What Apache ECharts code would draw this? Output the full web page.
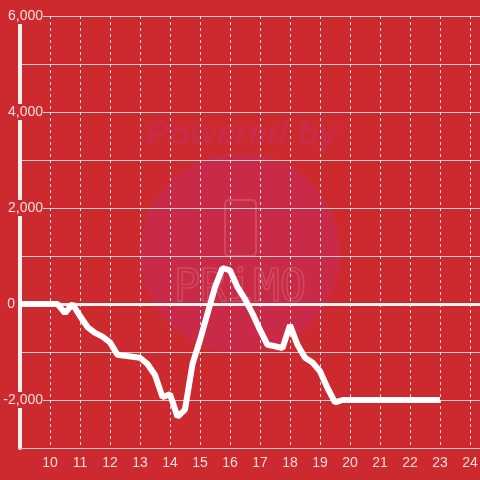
<!DOCTYPE html>
<html><head><meta charset="utf-8">
<script src="https://cdn.jsdelivr.net/npm/echarts@6/dist/echarts.min.js"></script>
<style>html,body{margin:0;padding:0;background:#cd2a2f}#c{width:480px;height:480px}</style>
</head><body><div id="c"></div>
<script>
const hours = [9,9.25,9.5,9.75,10,10.25,10.5,10.75,11,11.25,11.5,11.75,12,12.25,12.5,12.75,13,13.25,13.5,13.75,14,14.25,14.5,14.75,15,15.25,15.5,15.75,16,16.25,16.5,16.75,17,17.25,17.5,17.75,18,18.25,18.5,18.75,19,19.25,19.5,19.75,20,20.5,21,21.5,22,22.5,23];
const values = [0,0,0,0,0,0,-190,0,-250,-480,-600,-680,-800,-1060,-1080,-1100,-1120,-1250,-1480,-1940,-1880,-2350,-2200,-1250,-750,-200,350,750,700,350,100,-200,-540,-850,-880,-920,-440,-850,-1120,-1220,-1400,-1750,-2050,-2000,-2000,-2000,-2000,-2000,-2000,-2000,-2000];
const xTicks = [10,11,12,13,14,15,16,17,18,19,20,21,22,23,24];
const yTicks = [-2000,0,2000,4000,6000];

const bg = '#cd2a2f';
const chart = echarts.init(document.getElementById('c'), null, {renderer:'canvas'});
const labelColor = 'rgba(255,240,240,0.9)';
chart.setOption({
  backgroundColor: bg,
  animation: false,
  graphic: [
    {type:'circle', shape:{cx:240, cy:253, r:100}, style:{fill:'#c92a48'}, z:-10, silent:true},
    {type:'text', x:242, y:135, style:{text:'Powered by', font:'italic bold 34px "Liberation Sans", Arial', fill:'#c92c47', textAlign:'center', textVerticalAlign:'middle'}, z:-10, silent:true},
    {type:'rect', shape:{x:225, y:200, width:31, height:56, r:4}, style:{fill:'none', stroke:'#d04a5e', lineWidth:2}, z:-10, silent:true},
    {type:'text', x:240, y:290, style:{text:'PRiMO', font:'44px "DejaVu Sans Mono", monospace', fill:'none', stroke:'#d04a5e', lineWidth:1.5, textAlign:'center', textVerticalAlign:'middle'}, z:-10, silent:true}
  ],
  grid: {left:20, right:0, top:16, bottom:32, containLabel:false, outerBoundsMode:'none'},
  xAxis: {
    type:'value', min:9, max:24.33333, interval:1,
    axisLine:{show:true, onZero:false, lineStyle:{color:'#c8c8c8', width:1}},
    axisTick:{show:false},
    axisLabel:{color:labelColor, fontSize:14, fontFamily:'"Liberation Sans", Arial', margin:8,
      formatter: v => xTicks.indexOf(v) >= 0 ? String(v) : ''},
    splitLine:{show:true, lineStyle:{color:'#e8e0e0', type:[3,3], width:1}}
  },
  yAxis: {
    type:'value', min:-3000, max:6000, interval:1000,
    axisLine:{show:true, onZero:false, lineStyle:{color:'#f4f0f0', width:4}},
    axisTick:{show:false},
    axisLabel:{color:labelColor, fontSize:14, fontFamily:'"Liberation Sans", Arial', margin:-23, align:'right',
      formatter: v => {
        if (yTicks.indexOf(v) < 0) return '';
        if (v === 0) return '{z|0}';
        return '{n|' + v.toLocaleString('en-US') + '}';
      },
      rich: {
        n: {color:labelColor, fontSize:14, fontFamily:'"Liberation Sans", Arial', backgroundColor:bg, padding:[1,0,1,0]},
        z: {color:labelColor, fontSize:14, fontFamily:'"Liberation Sans", Arial', padding:[0,28,0,0]}
      }
    },
    splitLine:{show:true, lineStyle:{color:'#cfcfcf', width:1}}
  },
  series: [{
    type:'line',
    data: hours.map((h,i)=>[h, values[i]]),
    showSymbol:false,
    lineStyle:{color:'#ffffff', width:6},
    z:5,
    markLine:{silent:true, symbol:['none','none'], label:{show:false},
      lineStyle:{color:'#f4f0f0', width:3, type:'solid'},
      data:[{yAxis:0}]}
  }]
});
</script></body></html>
